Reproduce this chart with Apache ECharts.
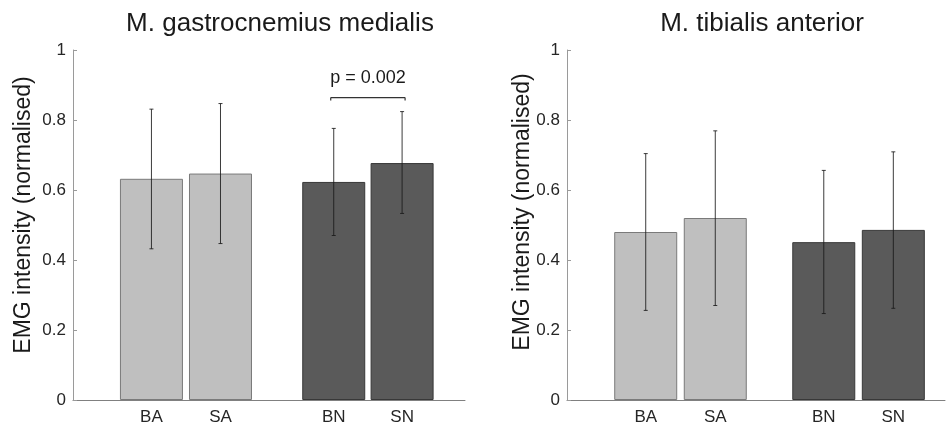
<!DOCTYPE html>
<html>
<head>
<meta charset="utf-8">
<script src="https://cdn.jsdelivr.net/npm/echarts@6/dist/echarts.min.js"></script>
<style>
  html, body { margin: 0; padding: 0; background: #fff; }
  #demo { width: 951px; height: 429px; }
</style>
</head>
<body>
<div id="demo"></div>
<script>
// conditions
var categories = ['BA', 'SA', 'BN', 'SN'];
// M. gastrocnemius medialis: mean and error bar ends
var gmMean = [0.632, 0.647, 0.623, 0.677];
var gmLow  = [0.432, 0.447, 0.470, 0.533];
var gmHigh = [0.831, 0.847, 0.776, 0.824];
// M. tibialis anterior
var taMean = [0.480, 0.520, 0.451, 0.486];
var taLow  = [0.256, 0.270, 0.247, 0.262];
var taHigh = [0.704, 0.769, 0.656, 0.709];
// bar x positions (groups of two with a gap)
var gmX = [1, 2, 3.64, 4.63];
var taX = [1, 2, 3.56, 4.56];
var pText = 'p = 0.002';
var pLevel = 0.864;

var font = 'Liberation Sans, Arial, Helvetica, sans-serif';
var light = '#bfbfbf', dark = '#5a5a5a';

function barData(xs, ys) {
    return ys.map(function (v, i) {
        return {
            value: [xs[i], v],
            itemStyle: {
                color: i < 2 ? light : dark,
                borderColor: i < 2 ? '#7a7a7a' : '#383838',
                borderWidth: 1
            }
        };
    });
}

function errData(xs, lo, hi) {
    return xs.map(function (x, i) { return [x, lo[i], hi[i]]; });
}

function renderErr(params, api) {
    var x = api.value(0);
    var a = api.coord([x, api.value(1)]);
    var b = api.coord([x, api.value(2)]);
    var st = { stroke: '#1a1a1a', lineWidth: 1, opacity: 0.85 };
    return {
        type: 'group',
        children: [
            { type: 'line', shape: { x1: a[0], y1: a[1], x2: b[0], y2: b[1] }, style: st },
            { type: 'line', shape: { x1: a[0] - 2, y1: a[1], x2: a[0] + 2, y2: a[1] }, style: st },
            { type: 'line', shape: { x1: b[0] - 2, y1: b[1], x2: b[0] + 2, y2: b[1] }, style: st }
        ]
    };
}

function xAxisFor(idx, xs, min, max) {
    return {
        gridIndex: idx, type: 'value', min: min, max: max,
        splitLine: { show: false },
        axisLine: { show: true, onZero: false, lineStyle: { color: '#808080', width: 1 } },
        axisTick: { show: false },
        axisLabel: {
            customValues: xs,
            formatter: function (v) {
                var k = xs.indexOf(v);
                return k >= 0 ? categories[k] : '';
            },
            color: '#262626', fontSize: 17, fontFamily: font, margin: 9
        }
    };
}

function yAxisFor(idx) {
    return {
        gridIndex: idx, type: 'value', min: 0, max: 1, interval: 0.2,
        splitLine: { show: false },
        axisLine: { show: true, onZero: false, lineStyle: { color: '#9a9a9a', width: 1 } },
        axisTick: { show: true, inside: true, length: 4, lineStyle: { color: '#9a9a9a' } },
        axisLabel: { color: '#262626', fontSize: 17, fontFamily: font, margin: 7 }
    };
}

var option = {
    backgroundColor: '#fff',
    animation: false,
    title: [
        { text: 'M. gastrocnemius medialis', left: 275, top: 6, textAlign: 'center',
          textStyle: { fontSize: 26, fontWeight: 'normal', color: '#1a1a1a', fontFamily: font } },
        { text: 'M. tibialis anterior', left: 757, top: 6, textAlign: 'center',
          textStyle: { fontSize: 26, fontWeight: 'normal', color: '#1a1a1a', fontFamily: font } }
    ],
    grid: [
        { left: 73, top: 50, width: 392, height: 350 },
        { left: 567, top: 50, width: 378, height: 350 }
    ],
    xAxis: [
        xAxisFor(0, gmX, -0.136, 5.541),
        xAxisFor(1, taX, -0.132, 5.303)
    ],
    yAxis: [yAxisFor(0), yAxisFor(1)],
    graphic: [
        { type: 'text', x: 24, y: 215, rotation: Math.PI / 2,
          style: { text: 'EMG intensity (normalised)', fontSize: 23, fontFamily: font, fill: '#1a1a1a',
                   align: 'center', verticalAlign: 'middle' } },
        { type: 'text', x: 523, y: 212, rotation: Math.PI / 2,
          style: { text: 'EMG intensity (normalised)', fontSize: 23, fontFamily: font, fill: '#1a1a1a',
                   align: 'center', verticalAlign: 'middle' } }
    ],
    series: [
        { type: 'bar', xAxisIndex: 0, yAxisIndex: 0, barWidth: 63, data: barData(gmX, gmMean) },
        { type: 'bar', xAxisIndex: 1, yAxisIndex: 1, barWidth: 63, data: barData(taX, taMean) },
        { type: 'custom', xAxisIndex: 0, yAxisIndex: 0, renderItem: renderErr,
          data: errData(gmX, gmLow, gmHigh), z: 5 },
        { type: 'custom', xAxisIndex: 1, yAxisIndex: 1, renderItem: renderErr,
          data: errData(taX, taLow, taHigh), z: 5 },
        // significance bracket between BN and SN
        { type: 'custom', xAxisIndex: 0, yAxisIndex: 0, z: 5,
          data: [[gmX[2], gmX[3], pLevel]],
          renderItem: function (params, api) {
              var a = api.coord([api.value(0), api.value(2)]);
              var b = api.coord([api.value(1), api.value(2)]);
              var st = { stroke: '#333', lineWidth: 1.2 };
              return {
                  type: 'group',
                  children: [
                      { type: 'line', shape: { x1: a[0] - 3, y1: a[1], x2: b[0] + 3, y2: b[1] }, style: st },
                      { type: 'line', shape: { x1: a[0] - 3, y1: a[1], x2: a[0] - 3, y2: a[1] + 3 }, style: st },
                      { type: 'line', shape: { x1: b[0] + 3, y1: b[1], x2: b[0] + 3, y2: b[1] + 3 }, style: st },
                      { type: 'text', x: (a[0] + b[0]) / 2, y: a[1] - 20,
                        style: { text: pText, fontSize: 18, fontFamily: font, fill: '#1a1a1a',
                                 align: 'center', verticalAlign: 'middle' } }
                  ]
              };
          } }
    ]
};

var myChart = echarts.init(document.getElementById('demo'));
myChart.setOption(option);
</script>
</body>
</html>
